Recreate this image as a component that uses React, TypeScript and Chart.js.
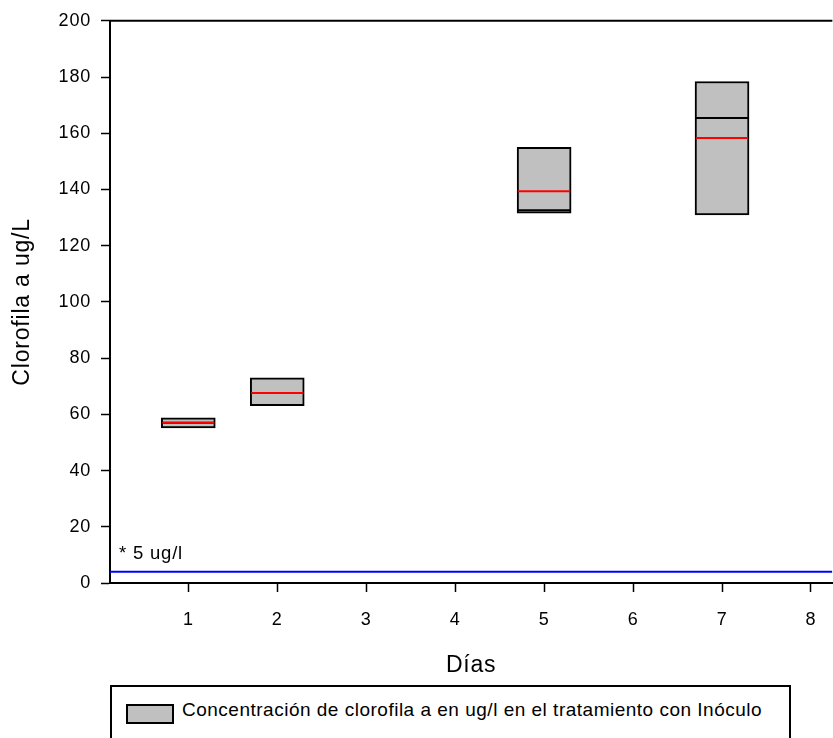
import React, { useEffect, useRef } from "react";
import { Chart, registerables } from "chart.js";

Chart.register(...registerables);

const days = [1, 2, 5, 7];
const boxLow = [55.2, 63.1, 131.6, 130.9];
const boxHigh = [58.8, 73.0, 155.0, 178.4];
const medians = [57.0, 67.6, 132.6, 165.4];
const means = [57.0, 67.6, 139.4, 158.3];
const xTickValues = [1, 2, 3, 4, 5, 6, 7, 8];
const yTickValues = [0, 20, 40, 60, 80, 100, 120, 140, 160, 180, 200];
const limitValue = 4;
const limitLabel = "* 5 ug/l";
const xMin = 0.12;
const xMax = 8.24;
const legendLabel = "Concentración de clorofila a en ug/l en el tratamiento con Inóculo";
const FONT = "'Liberation Sans', Arial, sans-serif";

const boxLinesPlugin = {
  id: "boxLines",
  beforeDraw(chart: any) {
    try {
      (chart.ctx as any).letterSpacing = "0.8px";
    } catch (e) {}
  },
  afterDatasetsDraw(chart: any) {
    const ctx = chart.ctx;
    const meta = chart.getDatasetMeta(0);
    const yS = chart.scales.y;
    ctx.save();
    meta.data.forEach((el: any, i: number) => {
      const half = el.width / 2 - 1;
      const ym = yS.getPixelForValue(medians[i]);
      ctx.strokeStyle = "#000";
      ctx.lineWidth = 2;
      ctx.beginPath();
      ctx.moveTo(el.x - half, ym);
      ctx.lineTo(el.x + half, ym);
      ctx.stroke();
      const ya = yS.getPixelForValue(means[i]);
      ctx.strokeStyle = "#ff0000";
      ctx.lineWidth = 2;
      ctx.beginPath();
      ctx.moveTo(el.x - half, ya);
      ctx.lineTo(el.x + half, ya);
      ctx.stroke();
    });
    ctx.restore();
  },
  afterDraw(chart: any) {
    const ctx = chart.ctx;
    const a = chart.chartArea;
    ctx.save();
    ctx.strokeStyle = "#000";
    ctx.lineWidth = 2;
    ctx.beginPath();
    ctx.moveTo(a.left - 1, a.top);
    ctx.lineTo(a.right, a.top);
    ctx.stroke();
    ctx.fillStyle = "#000";
    ctx.font = `18.5px ${FONT}`;
    ctx.textBaseline = "alphabetic";
    ctx.textAlign = "left";
    ctx.fillText(limitLabel, a.left + 9, chart.scales.y.getPixelForValue(limitValue) - 13);
    ctx.restore();
  },
};

export default function App() {
  const ref = useRef<HTMLCanvasElement | null>(null);
  useEffect(() => {
    document.body.style.margin = "0";
    if (!ref.current) return;
    const chart = new Chart(ref.current, {
      type: "bar",
      data: {
        datasets: [
          {
            type: "bar",
            label: legendLabel,
            data: days.map((d, i) => ({ x: d, y: [boxLow[i], boxHigh[i]] })) as any,
            backgroundColor: "#c0c0c0",
            borderColor: "#000",
            borderWidth: 2,
            borderSkipped: false,
            barThickness: 54,
          } as any,
          {
            type: "line",
            label: "limit",
            data: [
              { x: xMin, y: limitValue },
              { x: xMax, y: limitValue },
            ] as any,
            borderColor: "#0000ff",
            borderWidth: 2,
            pointRadius: 0,
          } as any,
        ],
      },
      options: {
        responsive: false,
        animation: false,
        layout: { padding: { top: 19, left: 0, right: 0, bottom: 0 } },
        plugins: { legend: { display: false }, tooltip: { enabled: false } },
        scales: {
          x: {
            type: "linear",
            min: xMin,
            max: xMax,
            offset: false,
            afterFit: (s: any) => {
              s.height = 155;
            },
            afterBuildTicks: (s: any) => {
              s.ticks = xTickValues.map((v) => ({ value: v }));
            },
            grid: { offset: false, drawOnChartArea: false, drawTicks: true, tickLength: 9, tickColor: "#000", tickWidth: 1.5 },
            border: { display: true, color: "#000", width: 2 },
            ticks: { color: "#000", font: { family: FONT, size: 18 }, padding: 17, maxRotation: 0, autoSkip: false },
            title: { display: true, text: "Días", color: "#000", font: { family: FONT, size: 23 }, padding: { top: 0, bottom: 59 } },
          },
          y: {
            type: "linear",
            min: 0,
            max: 200,
            afterFit: (s: any) => {
              s.width = 110;
            },
            afterBuildTicks: (s: any) => {
              s.ticks = yTickValues.map((v) => ({ value: v }));
            },
            grid: { drawOnChartArea: false, drawTicks: true, tickLength: 9, tickColor: "#000", tickWidth: 1.5 },
            border: { display: true, color: "#000", width: 2 },
            ticks: { color: "#000", font: { family: FONT, size: 18 }, padding: 10 },
            title: { display: true, text: "Clorofila a ug/L", color: "#000", font: { family: FONT, size: 23 }, padding: { top: 9, bottom: 0 } },
          },
        },
      },
      plugins: [boxLinesPlugin],
    } as any);
    return () => chart.destroy();
  }, []);

  return (
    <div style={{ position: "relative", width: 833, height: 738, overflow: "hidden", background: "#fff" }}>
      <canvas ref={ref} width={833} height={738} style={{ display: "block" }} />
      <div
        style={{
          position: "absolute",
          left: 110,
          top: 685,
          width: 681,
          height: 80,
          border: "2px solid #000",
          boxSizing: "border-box",
          background: "#fff",
        }}
      >
        <div
          style={{
            position: "absolute",
            left: 14,
            top: 17,
            width: 44,
            height: 16,
            background: "#c0c0c0",
            border: "2px solid #000",
          }}
        />
        <div
          style={{
            position: "absolute",
            left: 70,
            top: 11,
            fontFamily: FONT,
            fontSize: 19,
            letterSpacing: "0.5px",
            lineHeight: "24px",
            color: "#000",
            whiteSpace: "nowrap",
          }}
        >
          {legendLabel}
        </div>
      </div>
    </div>
  );
}
